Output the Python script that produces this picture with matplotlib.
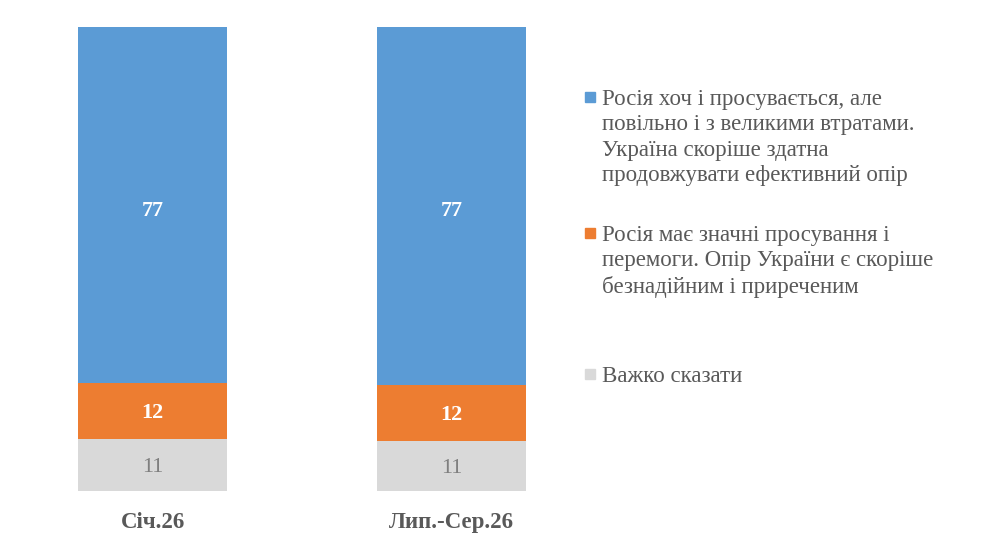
import matplotlib.pyplot as plt
from matplotlib.patches import Rectangle

plt.rcParams['font.family'] = ['Liberation Serif', 'DejaVu Serif']

categories = ["Січ.26", "Лип.-Сер.26"]
hard_to_say = [11.2, 10.8]
russia_wins = [12.1, 12.1]
russia_slow = [76.7, 77.1]
labels = [
    "Росія хоч і просувається, але\nповільно і з великими втратами.\nУкраїна скоріше здатна\nпродовжувати ефективний опір",
    "Росія має значні просування і\nперемоги. Опір України є скоріше\nбезнадійним і приреченим",
    "Важко сказати",
]
colors = ["#5B9BD5", "#ED7D31", "#D9D9D9"]

W, H = 982, 553
fig = plt.figure(figsize=(W / 100, H / 100), dpi=100)
ax = fig.add_axes([3 / W, (H - 491) / H, 598 / W, 464 / H])

x = range(len(categories))
bw = 0.5
ax.bar(x, hard_to_say, width=bw, color=colors[2])
ax.bar(x, russia_wins, width=bw, bottom=hard_to_say, color=colors[1])
bottom2 = [a + b for a, b in zip(hard_to_say, russia_wins)]
ax.bar(x, russia_slow, width=bw, bottom=bottom2, color=colors[0])

for i in x:
    ax.text(i, hard_to_say[i] / 2 - 0.5, f"{round(hard_to_say[i])}", ha="center", va="center",
            fontsize=16, color="#7F7F7F")
    ax.text(i, hard_to_say[i] + russia_wins[i] / 2 - 0.5, f"{round(russia_wins[i])}", ha="center",
            va="center", fontsize=16, color="white", fontweight="bold")
    ax.text(i, bottom2[i] + russia_slow[i] / 2 - 1.2, f"{round(russia_slow[i])}", ha="center",
            va="center", fontsize=16, color="white", fontweight="bold")

ax.set_xlim(-0.5, 1.5)
ax.set_ylim(0, 100)
ax.set_xticks(list(x))
ax.set_xticklabels(categories, fontsize=16.5, fontweight="bold", color="#595959")
ax.tick_params(axis="x", length=0, pad=15)
ax.set_yticks([])
for s in ax.spines.values():
    s.set_visible(False)

# legend drawn by hand to match the spacing
leg_y = [97, 233, 374]
for lab, c, y in zip(labels, colors, leg_y):
    fig.patches.append(Rectangle((585 / W, 1 - (y + 5) / H), 10 / W, 10 / H,
                                 transform=fig.transFigure, color=c))
    fig.text(602 / W, 1 - (y - 8) / H, lab, ha="left", va="top", fontsize=16.5,
             color="#595959", linespacing=1.28)

fig.savefig("out.png", dpi=100)
